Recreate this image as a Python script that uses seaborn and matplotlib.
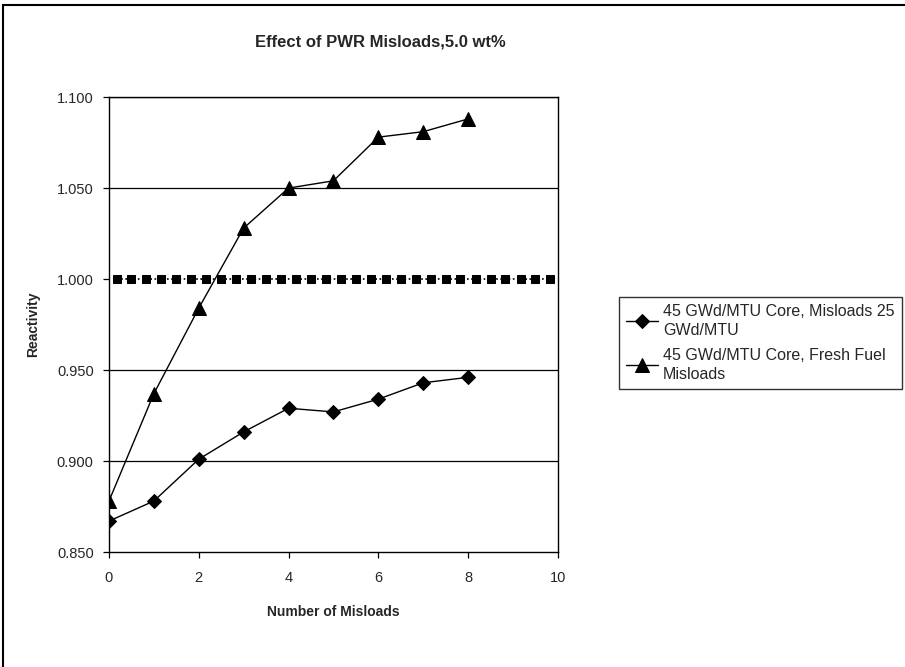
import matplotlib
matplotlib.use("Agg")
import matplotlib.pyplot as plt
import seaborn as sns
import pandas as pd
from matplotlib.patches import Rectangle

misloads = [0, 1, 2, 3, 4, 5, 6, 7, 8]
misload25 = [0.867, 0.878, 0.901, 0.916, 0.929, 0.927, 0.934, 0.943, 0.946]
fresh = [0.878, 0.937, 0.984, 1.028, 1.050, 1.054, 1.078, 1.081, 1.088]
limit_x = [0.17, 0.50, 0.83, 1.17, 1.50, 1.83, 2.17, 2.50, 2.83, 3.17,
           3.50, 3.83, 4.17, 4.50, 4.83, 5.17, 5.50, 5.83, 6.17, 6.50,
           6.83, 7.17, 7.50, 7.83, 8.17, 8.50, 8.83, 9.17, 9.50, 9.83]
limit_y = [1.000] * 30
label1 = "45 GWd/MTU Core, Misloads 25\nGWd/MTU"
label2 = "45 GWd/MTU Core, Fresh Fuel\nMisloads"
yticks = [0.850, 0.900, 0.950, 1.000, 1.050, 1.100]
xticks = [0, 2, 4, 6, 8, 10]

sns.set_style("white")
plt.rcParams['font.family'] = ['Liberation Sans', 'DejaVu Sans']

fig = plt.figure(figsize=(9.05, 6.67), dpi=100)
ax = fig.add_axes([0.1204, 0.1724, 0.496, 0.682])

# gridlines
for yv in [0.900, 0.950, 1.050, 1.100]:
    ax.axhline(yv, color='black', lw=0.9, zorder=1)

df1 = pd.DataFrame({"x": misloads, "y": misload25})
df2 = pd.DataFrame({"x": misloads, "y": fresh})
dfl = pd.DataFrame({"x": limit_x, "y": limit_y})

sns.lineplot(data=dfl, x="x", y="y", ax=ax, color='black', lw=1.2, ls=(0, (1, 1.5)),
             marker='s', markersize=6, markeredgecolor='black', zorder=3)
sns.lineplot(data=df1, x="x", y="y", ax=ax, color='black', lw=1.0,
             marker='D', markersize=7, markeredgecolor='black', label=label1, zorder=4)
sns.lineplot(data=df2, x="x", y="y", ax=ax, color='black', lw=1.0,
             marker='^', markersize=9.5, markeredgecolor='black', label=label2, zorder=4)

ax.set_xlim(0, 10)
ax.set_ylim(0.850, 1.100)
ax.set_xticks(xticks)
ax.set_yticks(yticks)
ax.set_yticklabels([f"{v:.3f}" for v in yticks])
ax.tick_params(axis='both', direction='out', length=4, width=0.9, color='black',
               labelsize=10.5, bottom=True, left=True)
ax.tick_params(axis='x', pad=10)
ax.tick_params(axis='y', pad=7)
for s in ax.spines.values():
    s.set_color('black')
    s.set_linewidth(1.0)
ax.set_xlabel("Number of Misloads", fontsize=10, fontweight='bold', labelpad=14)
ax.set_ylabel("Reactivity", fontsize=10, fontweight='bold', labelpad=12)

fig.text(0.42, 0.937, "Effect of PWR Misloads,5.0 wt%", fontsize=12, fontweight='bold',
         ha='center', va='center')

leg = ax.legend(loc='upper left', bbox_to_anchor=(619 / 905, 1 - 297 / 667),
                bbox_transform=fig.transFigure, frameon=True, fancybox=False,
                fontsize=11.5, handlelength=2.0, handletextpad=0.3, borderpad=0.45,
                labelspacing=0.65, borderaxespad=0)
leg.get_frame().set_edgecolor('black')
leg.get_frame().set_linewidth(1.0)
for t in leg.get_texts():
    t.set_linespacing(1.3)

# outer chart border (bottom edge lies outside the image)
fig.patches.append(Rectangle((3 / 905, -0.1), 1.2, 1.1 - 5 / 667, transform=fig.transFigure,
                             fill=False, edgecolor='black', lw=1.5))

fig.savefig("out.png", dpi=100)
